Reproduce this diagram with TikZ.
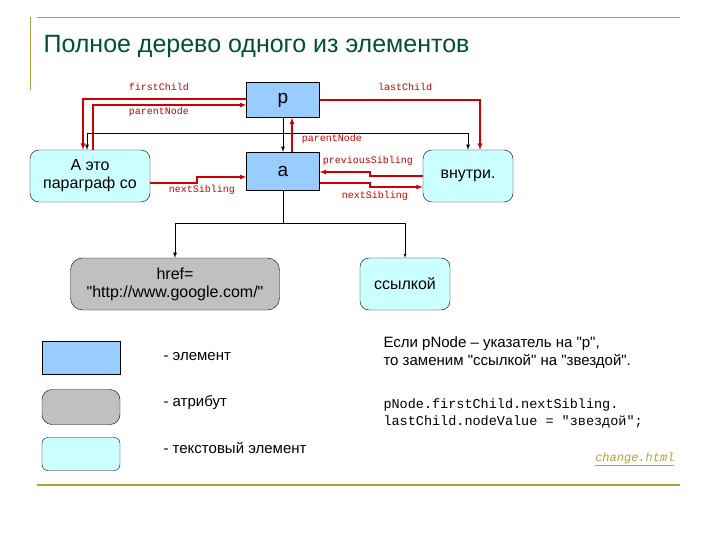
\documentclass[tikz,border=0pt]{standalone}
\usepackage{fontspec}
\setmainfont{Liberation Sans}[Ligatures=TeXOff]
\setmonofont{Liberation Mono}[Ligatures=TeXOff]
\usetikzlibrary{positioning,arrows}
\definecolor{elem}{RGB}{153,204,255}
\definecolor{textel}{RGB}{204,255,255}
\definecolor{attr}{RGB}{192,192,192}
\definecolor{linkred}{RGB}{204,0,0}
\definecolor{frame}{RGB}{178,160,60}
\definecolor{titlegreen}{RGB}{0,80,50}
\newcommand{\dq}{\symbol{34}}
\begin{document}
\begin{tikzpicture}[x=1pt,y=-1pt]
 \tikzset{elem/.style={draw,fill=elem,minimum width=73pt,minimum height=35pt,inner sep=0pt,font=\fontsize{19}{20}\selectfont},
  txt/.style={draw,fill=textel,rounded corners=9pt,align=center,inner sep=0pt,font=\fontsize{16}{18}\selectfont},
  attrib/.style={draw,fill=attr,rounded corners=12pt,align=center,inner sep=0pt,font=\fontsize{16}{18}\selectfont},
  tree/.style={thick,-latex},
  link/.style={linkred,very thick,-latex},
  lbl/.style={linkred,font=\ttfamily\fontsize{10}{11}\selectfont,inner sep=1pt}}
 \useasboundingbox (0,0) rectangle (720,540);
 % frame and title
 \draw[frame,thick] (37,17) -- (680,17);
 \draw[frame,thick] (30,17) -- (30,90);
 \draw[frame,ultra thick] (37,485) -- (680,485);
 \node[anchor=west,titlegreen,font=\fontsize{25}{27}\selectfont] (title) at (40,46) {Полное дерево одного из элементов};
 % nodes
 \node[elem] (P) at (283,100) {p};
 \node[elem,minimum height=38pt] (A) at (283,171) {a};
 \node[txt,minimum width=120pt,minimum height=52pt] (T1) at (90,176) {А это\\параграф со};
 \node[txt,minimum width=90pt,minimum height=52pt] (T2) at (468,176) {внутри.};
 \node[attrib,minimum width=209pt,minimum height=52pt] (H) at (175,284) {href=\\\dq http://www.google.com/\dq};
 \node[txt,minimum width=90pt,minimum height=52pt] (S) at (405,284) {ссылкой};
 % tree (black)
 \coordinate (tl) at (87,133);
 \coordinate (tr) at (468,133);
 \coordinate (br) at (283,223);
 \draw[tree] (tl) -- (T1.north -| tl);
 \draw[thick] (tl) -- (tr);
 \draw[tree] (tr) -- (T2.north -| tr);
 \draw[tree] (P.south) -- (A.north);
 \draw (A.south) -- (br);
 \draw[-latex] (br) -| (S.north);
 \draw[tree] (175,223) -- (H.north);
 \draw (175,223) -- (br);
 % links (red)
 \draw[link] (P.west |- 0,99) -- (83,99) -- (T1.north -| 83,0);
 \draw[link] (T1.north -| 93,0) -- (93,105) -- (P.west |- 0,105);
 \draw[link] (P.east |- 0,100) -- (480,100) -- (T2.north -| 480,0);
 \draw[link] (A.north -| 292,0) -- (P.south -| 292,0);
 \draw[link] (T1.east |- 0,183) -- (197,183) -- (197,177) -- (A.west |- 0,177);
 \draw[link] (T2.west |- 0,176) -- (370,176) -- (370,172) -- (A.east |- 0,172);
 \draw[link] (A.east |- 0,183) -- (370,183) -- (370,187) -- (T2.west |- 0,187);
 \node[lbl] (l1) at (159,87) {firstChild};
 \node[lbl] (l2) at (159,112) {parentNode};
 \node[lbl] (l3) at (405,87) {lastChild};
 \node[lbl] (l4) at (332,139) {parentNode};
 \node[lbl] (l5) at (202,190) {nextSibling};
 \node[lbl] (l6) at (368,161) {previousSibling};
 \node[lbl] (l7) at (375,196) {nextSibling};
 % legend
 \node[elem,minimum width=78pt,minimum height=33pt] (k1) at (81,358) {};
 \node[attrib,minimum width=78pt,minimum height=35pt,rounded corners=10pt] (k2) at (81,407) {};
 \node[txt,minimum width=78pt,minimum height=33pt,rounded corners=6pt] (k3) at (81,454) {};
 \node[anchor=west,font=\fontsize{15}{17}\selectfont] (d1) at (160,357) {- элемент};
 \node[anchor=west,font=\fontsize{15}{17}\selectfont] (d2) at (160,403) {- атрибут};
 \node[anchor=west,font=\fontsize{15}{17}\selectfont] (d3) at (160,448) {- текстовый элемент};
 \node[anchor=west,align=left,font=\fontsize{15}{18}\selectfont] (note) at (380,353) {Если pNode – указатель на \dq p\dq,\\то заменим \dq ссылкой\dq{} на \dq звездой\dq.};
 \node[anchor=west,align=left,font=\ttfamily\fontsize{13.5}{17}\selectfont] (code) at (380,413) {pNode.firstChild.nextSibling.\\lastChild.nodeValue = \dq звездой\dq;};
 \node[anchor=east,frame,font=\ttfamily\itshape\fontsize{12}{13}\selectfont] (ref) at (678,459) {\underline{change.html}};
\end{tikzpicture}
\end{document}
